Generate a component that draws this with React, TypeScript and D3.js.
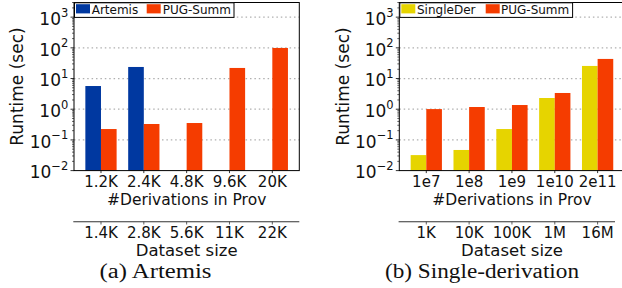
import React from "react";
import * as d3 from "d3";

const leftCats = ["1.2K", "2.4K", "4.8K", "9.6K", "20K"];
const leftCats2 = ["1.4K", "2.8K", "5.6K", "11K", "22K"];
const artemis = [5.7, 23.8, null, null, null];
const pugLeft = [0.226, 0.33, 0.355, 22.1, 99];

const rightCats = ["1e7", "1e8", "1e9", "1e10", "2e11"];
const rightCats2 = ["1K", "10K", "100K", "1M", "16M"];
const singleDer = [0.032, 0.047, 0.226, 2.32, 25.7];
const pugRight = [1.01, 1.18, 1.37, 3.38, 43.5];

const yTicks = [-2, -1, 0, 1, 2, 3];

const BLUE = "#0038a0";
const ORANGE = "#f53c00";
const YELLOW = "#e6d400";

type PanelProps = {
  ox: number;
  cats: string[];
  cats2: string[];
  s1: (number | null)[];
  s2: (number | null)[];
  n1: string;
  n2: string;
  c1: string;
  c2: string;
  caption: string;
  captionX: number;
  captionW: number;
  legendW: number;
  line2End: number;
};

function Panel(p: PanelProps) {
  const left = 74 + p.ox;
  const right = 299.3 + p.ox;
  const top = 2.5;
  const bottom = 170.6;
  const y = d3.scaleLog().domain([0.01, 3000]).range([bottom, top]);
  const x = d3.scaleLinear().domain([-0.63, 4.63]).range([left, right]);
  const bw = 0.365;
  const minors: number[] = [];
  for (let e = -2; e <= 3; e++) {
    for (let m = 2; m <= 9; m++) {
      const v = m * Math.pow(10, e);
      if (v <= 3000) minors.push(v);
    }
  }
  const font = "DejaVu Sans";
  const bar = (v: number | null, i: number, off: number, col: string, k: string) =>
    v == null ? null : (
      <rect
        key={k}
        x={x(i + off)}
        width={x(bw) - x(0)}
        y={y(v)}
        height={bottom - y(v)}
        fill={col}
      />
    );
  const cx = (left + right) / 2;
  return (
    <g>
      {yTicks.slice(1).map((t) => (
        <line
          key={"g" + t}
          x1={left}
          x2={right}
          y1={y(Math.pow(10, t))}
          y2={y(Math.pow(10, t))}
          stroke="#b0b0b0"
          strokeWidth={1.2}
          strokeDasharray="1.5,2.9"
        />
      ))}
      {p.s1.map((v, i) => bar(v, i, -bw, p.c1, "a" + i))}
      {p.s2.map((v, i) => bar(v, i, 0, p.c2, "b" + i))}
      <rect x={left} y={top} width={right - left} height={bottom - top} fill="none" stroke="#000" strokeWidth={1} />
      {minors.map((v, i) => (
        <line key={"m" + i} x1={left - 2} x2={left} y1={y(v)} y2={y(v)} stroke="#000" strokeWidth={0.6} />
      ))}
      {yTicks.map((t) => (
        <g key={"t" + t}>
          <line x1={left - 3.5} x2={left} y1={y(Math.pow(10, t))} y2={y(Math.pow(10, t))} stroke="#000" strokeWidth={0.8} />
          <text x={left - 5.7} y={y(Math.pow(10, t)) + 7.7} textAnchor="end" fontFamily={font} fontSize={17} fill="#111">
            <tspan>10</tspan>
            <tspan dy={-8.3} fontSize={11.5}>{t < 0 ? "\u2212" + Math.abs(t) : String(t)}</tspan>
          </text>
        </g>
      ))}
      <text
        transform={`translate(${23.3 + p.ox},${(top + bottom) / 2}) rotate(-90)`}
        textAnchor="middle"
        fontFamily={font}
        fontSize={17}
        fill="#111"
      >
        Runtime (sec)
      </text>
      {p.cats.map((c, i) => (
        <g key={"x" + i}>
          <line x1={x(i)} x2={x(i)} y1={bottom} y2={bottom + 2.5} stroke="#000" strokeWidth={0.8} />
          <text x={x(i)} y={187} textAnchor="middle" fontFamily={font} fontSize={15} fill="#111">
            {c}
          </text>
        </g>
      ))}
      <text x={cx} y={205} textAnchor="middle" fontFamily={font} fontSize={15.5} fill="#111">
        #Derivations in Prov
      </text>
      <line x1={left - 0.7} x2={p.line2End} y1={221.7} y2={221.7} stroke="#333" strokeWidth={1.1} />
      {p.cats2.map((c, i) => (
        <g key={"x2" + i}>
          <line x1={x(i)} x2={x(i)} y1={221.7} y2={224.5} stroke="#333" strokeWidth={0.8} />
          <text x={x(i)} y={237.7} textAnchor="middle" fontFamily={font} fontSize={15} fill="#111">
            {c}
          </text>
        </g>
      ))}
      <text x={cx} y={255.5} textAnchor="middle" fontFamily={font} fontSize={16.5} fill="#111">
        Dataset size
      </text>
      <text
        x={p.captionX}
        y={278.3}
        textAnchor="middle"
        fontFamily="Liberation Serif"
        fontSize={20.5}
        textLength={p.captionW}
        lengthAdjust="spacingAndGlyphs"
        fill="#111"
      >
        {p.caption}
      </text>
      {/* legend */}
      <rect x={left + 0.5} y={top + 0.3} width={p.legendW} height={14.6} fill="#fff" stroke="#000" strokeWidth={1} />
      <rect x={left + 2} y={4.2} width={14} height={9.2} fill={p.c1} />
      <text x={left + 17.7} y={13.5} fontFamily={font} fontSize={12} fill="#111">
        {p.n1}
      </text>
      <rect x={left + (p.ox ? 86.4 : 72.7)} y={4.2} width={14} height={9.2} fill={p.c2} />
      <text x={left + (p.ox ? 101.7 : 88.7)} y={13.5} fontFamily={font} fontSize={12} fill="#111">
        {p.n2}
      </text>
    </g>
  );
}

export default function App() {
  return (
    <svg
      width={622}
      height={288}
      style={{ position: "absolute", left: 0, top: 0, background: "#fff" }}
    >
      <rect width={622} height={288} fill="#fff" />
      <Panel
        ox={0}
        cats={leftCats}
        cats2={leftCats2}
        s1={artemis}
        s2={pugLeft}
        n1="Artemis"
        n2="PUG-Summ"
        c1={BLUE}
        c2={ORANGE}
        caption="(a) Artemis"
        captionX={155.5}
        captionW={112}
        legendW={159.5}
        line2End={299.3}
      />
      <Panel
        ox={325.3}
        cats={rightCats}
        cats2={rightCats2}
        s1={singleDer}
        s2={pugRight}
        n1="SingleDer"
        n2="PUG-Summ"
        c1={YELLOW}
        c2={ORANGE}
        caption="(b) Single-derivation"
        captionX={482}
        captionW={194}
        legendW={172.8}
        line2End={615}
      />
    </svg>
  );
}
